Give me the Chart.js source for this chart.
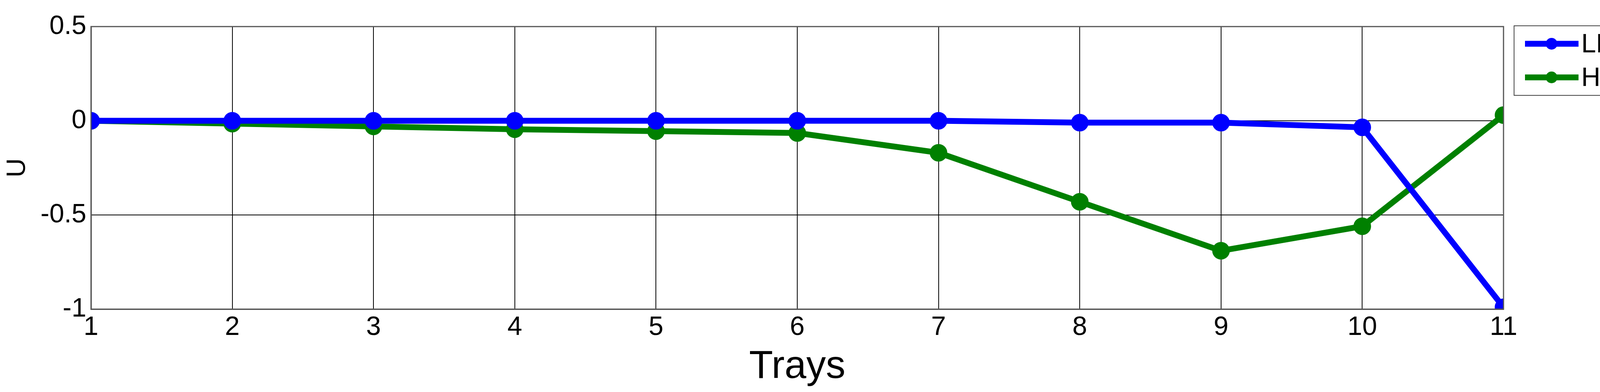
<!DOCTYPE html>
<html>
<head>
<meta charset="utf-8">
<script src="https://cdn.jsdelivr.net/npm/chart.js@4/dist/chart.umd.min.js"></script>
<style>
html,body{margin:0;padding:0;background:#fff;overflow:hidden;}
canvas{display:block;}
</style>
</head>
<body>
<canvas id="myChart" width="4250" height="1003" style="width:4250px;height:1003px"></canvas>
<script>
var trays = [1,2,3,4,5,6,7,8,9,10,11];
var lpcValues = [0,0,0,0,0,0,0,-0.01,-0.01,-0.035,-0.99];
var hpcValues = [0,-0.015,-0.03,-0.045,-0.055,-0.065,-0.17,-0.43,-0.69,-0.56,0.03];
var yTicks = [-1,-0.5,0,0.5];
var FONT = 'Arial, "Liberation Sans"';

function pts(vals){
  return trays.map(function(t,i){ return {x:t, y:vals[i]}; });
}

// matlab style legend box
var boxLegend = {
  id:'boxLegend',
  afterDraw:function(chart){
    var c = chart.ctx, x0 = 3876, y0 = 66, w = 300, h = 178;
    c.save();
    c.fillStyle = '#fff';
    c.fillRect(x0,y0,w,h);
    c.strokeStyle = '#444'; c.lineWidth = 2;
    c.strokeRect(x0,y0,w,h);
    chart.data.datasets.forEach(function(ds,i){
      var yy = y0 + 46 + i*86;
      c.strokeStyle = ds.borderColor; c.lineWidth = 15;
      c.beginPath(); c.moveTo(x0+28,yy); c.lineTo(x0+165,yy); c.stroke();
      c.fillStyle = ds.borderColor;
      c.beginPath(); c.arc(x0+96,yy,15,0,Math.PI*2); c.fill();
      c.fillStyle = '#000';
      c.font = '68px ' + FONT;
      c.textBaseline = 'middle';
      c.fillText(ds.label, x0+172, yy+3);
    });
    c.restore();
  }
};

new Chart(document.getElementById('myChart'), {
  type:'line',
  data:{
    datasets:[
      {label:'LPC', data:pts(lpcValues), borderColor:'#0000ff', backgroundColor:'#0000ff', borderWidth:15, pointRadius:15, pointStyle:'circle', tension:0},
      {label:'HPC', data:pts(hpcValues), borderColor:'#008000', backgroundColor:'#008000', borderWidth:15, pointRadius:15, pointStyle:'circle', tension:0}
    ]
  },
  options:{
    responsive:false, devicePixelRatio:1, animation:false,
    layout:{padding:{left:0,right:401,top:68,bottom:0}},
    plugins:{legend:{display:false}, tooltip:{enabled:false}},
    scales:{
      x:{type:'linear', min:1, max:11,
        afterFit:function(s){ s.height = 212; },
        ticks:{stepSize:1, color:'#000', font:{size:68, family:FONT}, padding:6},
        grid:{color:'#000', lineWidth:2, borderDash:[3,6], drawTicks:false},
        border:{display:true, color:'#555', width:3},
        title:{display:true, text:'Trays', color:'#000', font:{size:100, family:FONT}, padding:{top:4}}
      },
      y:{min:-1, max:0.5,
        afterFit:function(s){ s.width = 233; },
        afterBuildTicks:function(s){ s.ticks = yTicks.map(function(v){ return {value:v}; }); },
        ticks:{color:'#000', font:{size:68, family:FONT}, padding:12,
          callback:function(v){ return String(v); }},
        grid:{color:'#000', lineWidth:2, borderDash:[3,6], drawTicks:false},
        border:{display:true, color:'#555', width:3},
        title:{display:true, text:'U', color:'#000', font:{size:68, family:FONT}}
      }
    }
  },
  plugins:[boxLegend, {
    id:'frame',
    afterDraw:function(chart){
      var a = chart.chartArea, c = chart.ctx;
      c.save(); c.strokeStyle = '#555'; c.lineWidth = 3;
      c.strokeRect(a.left,a.top,a.right-a.left,a.bottom-a.top);
      c.restore();
    }
  }]
});
</script>
</body>
</html>
